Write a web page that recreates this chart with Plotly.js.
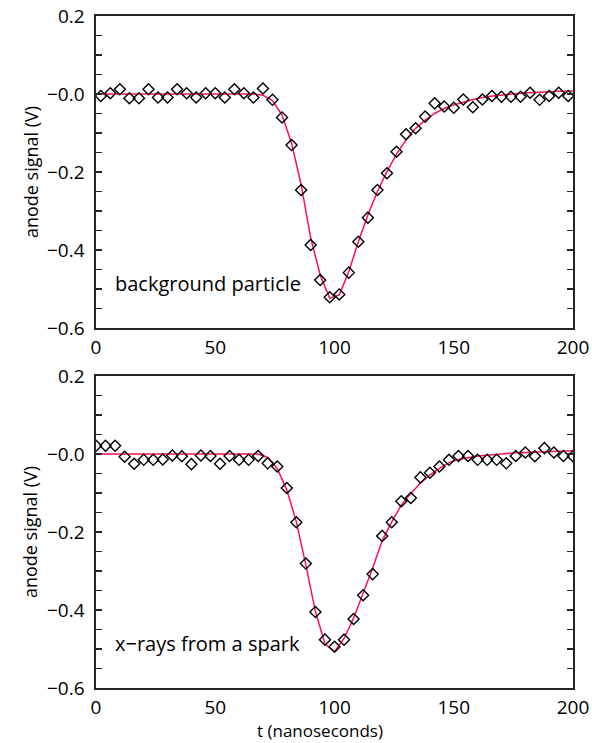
<!DOCTYPE html>
<html>
<head>
<meta charset="utf-8">
<script src="https://cdn.plot.ly/plotly-3.0.1.min.js"></script>
<style>html,body{margin:0;padding:0;background:#fff;}#chart{width:592px;height:743px;}</style>
</head>
<body>
<div id="chart"></div>
<script>
// ---- Data ----
var topTime = [2,6,10,14,18,22,26,30,34,38,42,46,50,54,58,62,66,70,74,78,82,86,90,94,98,
  102,106,110,114,118,122,126,130,134,138,142,146,150,154,158,162,166,170,174,178,182,186,190,194,198];
var topSignal = [-0.005,0.002,0.012,-0.011,-0.011,0.012,-0.009,-0.009,0.012,0.002,-0.009,0.002,0.002,-0.009,0.012,0.002,-0.009,
  0.014,-0.015,-0.060,-0.131,-0.246,-0.387,-0.477,-0.521,
  -0.514,-0.458,-0.379,-0.317,-0.246,-0.203,-0.148,-0.103,-0.088,-0.058,-0.024,-0.032,-0.035,-0.014,-0.034,
  -0.014,-0.005,-0.007,-0.007,-0.007,0.003,-0.015,-0.005,0.003,-0.005];
var topFitTime = [0,2,6,10,14,18,22,26,30,34,38,42,46,50,54,58,62,66,70,74,78,82,86,90,94,98,
  102,106,110,114,118,122,126,130,134,138,142,146,150,154,158,162,166,170,174,178,182,186,190,194,198,200];
var topFit = [0,0,0,0,0,0,0,0,0,0,0,0,0,0,0,0,0,0,
  -0.003,-0.017,-0.054,-0.126,-0.232,-0.368,-0.464,-0.524,
  -0.515,-0.455,-0.379,-0.310,-0.250,-0.199,-0.154,-0.118,-0.088,-0.067,-0.050,-0.037,-0.028,-0.020,-0.014,
  -0.009,-0.005,-0.003,0.000,0.002,0.003,0.005,0.006,0.007,0.008,0.008];

var bottomTime = [0,4,8,12,16,20,24,28,32,36,40,44,48,52,56,60,64,68,72,76,80,84,88,92,96,100,
  104,108,112,116,120,124,128,132,136,140,144,148,152,156,160,164,168,172,176,180,184,188,192,196,200];
var bottomSignal = [0.021,0.021,0.021,-0.007,-0.025,-0.015,-0.015,-0.014,-0.004,-0.006,-0.026,-0.004,-0.005,-0.025,-0.005,-0.015,-0.015,
  -0.005,-0.024,-0.032,-0.087,-0.175,-0.281,-0.405,-0.476,-0.494,
  -0.476,-0.423,-0.362,-0.308,-0.210,-0.175,-0.121,-0.113,-0.060,-0.048,-0.032,-0.015,-0.005,-0.005,
  -0.015,-0.015,-0.015,-0.024,-0.005,0.004,-0.006,0.015,0.004,-0.005,-0.006];
var bottomFit = [0,0,0,0,0,0,0,0,0,0,0,0,0,0,0,0,0,
  0.000,-0.009,-0.037,-0.092,-0.174,-0.285,-0.404,-0.487,-0.507,
  -0.473,-0.421,-0.357,-0.293,-0.222,-0.174,-0.131,-0.101,-0.075,-0.054,-0.037,-0.022,-0.014,-0.009,
  -0.005,-0.003,-0.001,0.002,0.003,0.004,0.005,0.006,0.007,0.007,0.008];

var panelLabels = ['background particle', 'x\u2212rays from a spark'];
var xTitle = 't (nanoseconds)';
var yTitle = 'anode signal (V)';
var yTickVals = [-0.6,-0.4,-0.2,0,0.2];
var yTickText = ['\u22120.6','\u22120.4','\u22120.2','\u22120.0','0.2'];
var xTickVals = [0,50,100,150,200];

// ---- Styles ----
var FONT = 'Open Sans, Lato, sans-serif';
var lineColor = '#ff1050';
var axisColor = '#262626';
var markerStyle = {symbol:'diamond-open', size:8.5, color:'#000', line:{color:'#000', width:1.4}};

var traces = [
  {x: topFitTime, y: topFit, xaxis:'x2', yaxis:'y2', mode:'lines', line:{color:lineColor, width:1.5}, hoverinfo:'skip'},
  {x: topTime, y: topSignal, xaxis:'x2', yaxis:'y2', mode:'markers', marker:markerStyle},
  {x: bottomTime, y: bottomFit, xaxis:'x', yaxis:'y', mode:'lines', line:{color:lineColor, width:1.5}, hoverinfo:'skip'},
  {x: bottomTime, y: bottomSignal, xaxis:'x', yaxis:'y', mode:'markers', marker:markerStyle}
];

function xAxis(anchor) {
  return {
    anchor: anchor, range:[0,200], tickvals:xTickVals, ticks:'', showgrid:false, zeroline:false,
    showline:true, mirror:true, linecolor:axisColor, linewidth:1.6,
    tickfont:{family:FONT, size:19, color:'#000'}, ticklabelstandoff: 2
  };
}
function yAxis(anchor, domain) {
  return {
    anchor: anchor, domain: domain, range:[-0.6,0.2], tickvals:yTickVals, ticktext:yTickText,
    ticks:'inside', ticklen:6, tickwidth:1.2, tickcolor:axisColor,
    minor:{tick0:0, dtick:0.05, ticks:'inside', ticklen:6, tickwidth:1.2, tickcolor:axisColor},
    showgrid:false, zeroline:false, showline:true, mirror:'ticks', linecolor:axisColor, linewidth:1.6,
    tickfont:{family:FONT, size:19, color:'#000'}, ticklabelstandoff: 6,
    title:{text:yTitle, font:{family:FONT, size:18, color:'#000'}, standoff:4}
  };
}

var layout = {
  width:592, height:743, showlegend:false,
  paper_bgcolor:'#fff', plot_bgcolor:'#fff',
  margin:{l:96, r:19, t:16, b:55},
  xaxis: xAxis('y'),
  yaxis: yAxis('x', [0, 0.4643]),
  xaxis2: xAxis('y2'),
  yaxis2: yAxis('x2', [0.5357, 1]),
  annotations: [
    {xref:'x2', yref:'y2', x:7, y:-0.485, text:panelLabels[0], showarrow:false, xanchor:'left', yanchor:'middle',
     font:{family:FONT, size:20, color:'#000'}},
    {xref:'x', yref:'y', x:7, y:-0.485, text:panelLabels[1], showarrow:false, xanchor:'left', yanchor:'middle',
     font:{family:FONT, size:20, color:'#000'}},
    {xref:'paper', yref:'paper', x:0.47, y:-0.0818, text:xTitle, showarrow:false, xanchor:'center', yanchor:'bottom',
     borderpad:0, font:{family:FONT, size:17, color:'#000'}}
  ]
};

Plotly.newPlot('chart', traces, layout, {displayModeBar:false, staticPlot:true});
</script>
</body>
</html>
